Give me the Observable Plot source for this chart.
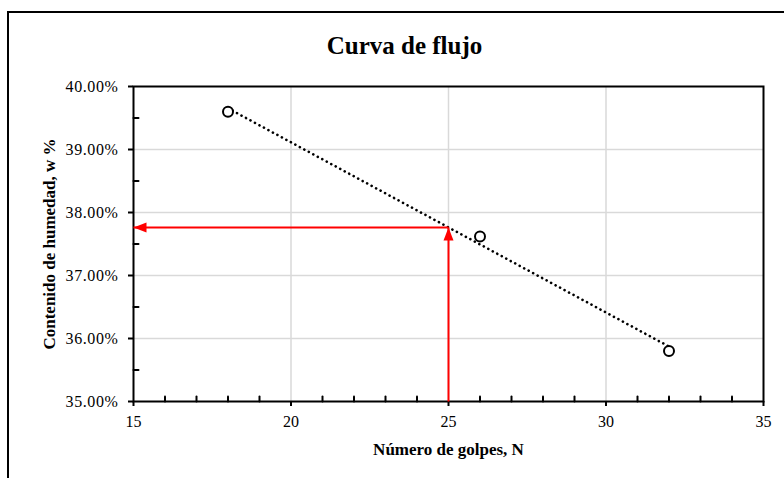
<!DOCTYPE html>
<html>
<head>
<meta charset="utf-8">
<script src="https://cdn.jsdelivr.net/npm/d3@7"></script>
<script src="https://cdn.jsdelivr.net/npm/@observablehq/plot@0.6"></script>
<style>
  html, body { margin: 0; padding: 0; background: #fff; }
  #wrap { position: relative; width: 784px; height: 478px; overflow: hidden; }
  #border { position: absolute; left: 7px; top: 11px; width: 800px; height: 500px; border: 2px solid #000; }
  #chart { position: absolute; left: 0; top: 0; }
</style>
</head>
<body>
<div id="wrap"><div id="border"></div><div id="chart"></div></div>
<script>
// Data
const golpes = [18, 26, 32];                 // Número de golpes, N
const humedad = [0.396, 0.3762, 0.358];      // Contenido de humedad, w
const nTarget = [25];
const wTarget = [0.3776];
const xTicks = [15, 20, 25, 30, 35];
const xMinor = [16, 17, 18, 19, 21, 22, 23, 24, 26, 27, 28, 29, 31, 32, 33, 34];
const yTicks = [0.35, 0.36, 0.37, 0.38, 0.39, 0.40];
const yMinor = [0.355, 0.365, 0.375, 0.385, 0.395];
const titleText = "Curva de flujo";
const xTitle = "Número de golpes, N";
const yTitle = "Contenido de humedad, w %";

const pts = golpes.map((n, i) => ({n, w: humedad[i]}));
const tgt = nTarget.map((n, i) => ({n, w: wTarget[i]}));

const headUp = {draw(ctx) { ctx.moveTo(0, 0); ctx.lineTo(-5, 13); ctx.lineTo(5, 13); ctx.closePath(); }};
const tickShape = {draw(ctx, l) { ctx.moveTo(0, 0); ctx.lineTo(0, -l); }};

const chart = Plot.plot({
  width: 784,
  height: 478,
  marginLeft: 133,
  marginRight: 21,
  marginTop: 86,
  marginBottom: 77,
  style: {fontFamily: "'Liberation Serif', 'Times New Roman', serif", background: "transparent", color: "#000"},
  x: {domain: [15, 35], axis: null, label: null},
  y: {domain: [0.35, 0.40], axis: null, label: null},
  marks: [
    Plot.gridX(xTicks.slice(1, -1), {stroke: "#d9d9d9", strokeOpacity: 1, strokeWidth: 1.5}),
    Plot.gridY(yTicks.slice(1, -1), {stroke: "#d9d9d9", strokeOpacity: 1, strokeWidth: 1.5}),
    Plot.axisX(xTicks, {anchor: "bottom", label: null, tickSize: 5, tickPadding: 9, fontSize: 16, strokeWidth: 2, tickFormat: d => String(d)}),
    Plot.axisY(yTicks, {anchor: "left", label: null, tickSize: 5, tickPadding: 10, fontSize: 16, strokeWidth: 2, tickFormat: d3.format(".2%")}),
    Plot.vector(xMinor, {x: d => d, y: () => 0.35, length: 5, rotate: 0, anchor: "start", shape: tickShape, stroke: "#000", strokeWidth: 2}),
    Plot.vector(yMinor, {x: () => 15, y: d => d, length: 5, rotate: 90, anchor: "start", shape: tickShape, stroke: "#000", strokeWidth: 2}),
    Plot.frame({stroke: "#000", strokeWidth: 2}),
    Plot.linearRegressionY(pts, {x: "n", y: "w", ci: 0, stroke: "#000", strokeWidth: 2.6, strokeDasharray: "0.1 5", strokeLinecap: "round"}),
    Plot.link(tgt, {x1: "n", y1: () => 0.35, x2: "n", y2: "w", stroke: "#ff0000", strokeWidth: 2}),
    Plot.link(tgt, {x1: "n", y1: "w", x2: () => 15, y2: "w", stroke: "#ff0000", strokeWidth: 2}),
    Plot.dot(tgt, {x: "n", y: "w", symbol: headUp, fill: "#ff0000", stroke: "none", r: 5}),
    Plot.dot(tgt, {x: () => 15, y: "w", symbol: headUp, rotate: -90, fill: "#ff0000", stroke: "none", r: 5}),
    Plot.dot(pts, {x: "n", y: "w", r: 5, stroke: "#000", strokeWidth: 2, fill: "#fff"}),
    Plot.text([titleText], {frameAnchor: "top", textAnchor: "middle", lineAnchor: "middle", dx: -44, dy: -41, fontSize: 25, fontWeight: "bold", text: d => d}),
    Plot.text([xTitle], {frameAnchor: "bottom", textAnchor: "middle", lineAnchor: "middle", dy: 48, fontSize: 17, fontWeight: "bold", text: d => d}),
    Plot.text([yTitle], {frameAnchor: "left", textAnchor: "middle", lineAnchor: "middle", dx: -84, rotate: -90, fontSize: 17, fontWeight: "bold", text: d => d})
  ]
});
d3.select(chart).selectAll('g[aria-label="y-axis tick label"] text').attr("letter-spacing", "0.6px");
document.getElementById("chart").appendChild(chart);
</script>
</body>
</html>
